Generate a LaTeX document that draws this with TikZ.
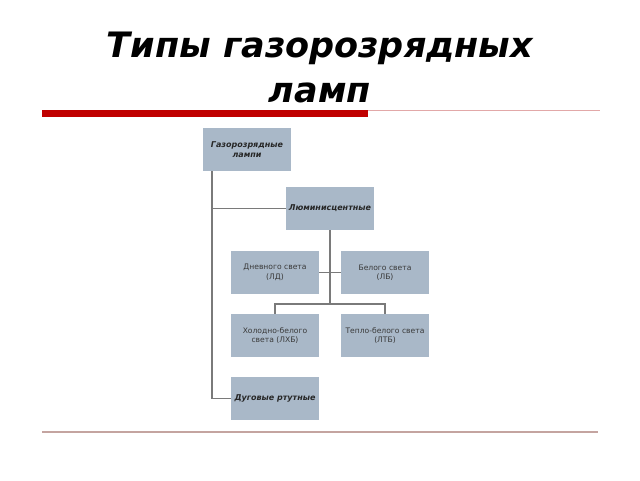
\documentclass[tikz,border=0pt]{standalone}
\usepackage{fontspec}
\setmainfont{DejaVu Sans}
\definecolor{boxfill}{HTML}{A9B8C8}
\definecolor{linegrey}{HTML}{7A7A7A}
\definecolor{redbar}{HTML}{C00000}
\definecolor{thinred}{HTML}{E2A8A8}
\definecolor{bottomline}{HTML}{C4A4A0}
\definecolor{txtgrey}{HTML}{3A3A3A}
\begin{document}
\begin{tikzpicture}[x=1pt,y=-1pt,
  box/.style={fill=boxfill, minimum width=88pt, minimum height=43pt, inner sep=2pt, align=center, text=txtgrey, font=\fontsize{7.6}{9.5}\selectfont},
  boldbox/.style={box, text=black!85, font=\fontsize{8}{10}\bfseries\itshape\selectfont},
  conn/.style={draw=linegrey, line width=1.5pt}]
\useasboundingbox (0,0) rectangle (640,480);
\node[font=\fontsize{35}{45}\bfseries\itshape\selectfont, align=center] (title) at (320,67) {Типы газорозрядных\\ламп};
\fill[redbar] (42,110) rectangle (368,117);
\coordinate (rl1) at (368,110.5);
\coordinate (rl2) at (600,110.5);
\draw[thinred, line width=1pt] (rl1) -- (rl2);
\coordinate (bl1) at (42,432);
\coordinate (bl2) at (598,432);
\draw[bottomline, line width=2.2pt] (bl1) -- (bl2);

\node[boldbox] (g) at (247,149.5) {Газорозрядные\\лампи};
\node[boldbox] (l) at (330,208.5) {Люминисцентные};
\node[box] (d) at (275,272.5) {Дневного света\\(ЛД)};
\node[box] (b) at (385,272.5) {Белого света\\(ЛБ)};
\node[box] (h) at (275,335.5) {Холодно-белого\\света (ЛХБ)};
\node[box] (t) at (385,335.5) {Тепло-белого света\\(ЛТБ)};
\node[boldbox] (a) at (275,398.5) {Дуговые ртутные};

\coordinate (trunk) at ([xshift=9pt]g.south west);
\coordinate (bus) at (330,304);
\draw[conn] (trunk) |- (a.west);
\draw[conn] (l.west) -- (l.west -| trunk);
\draw[conn] (l.south) -- (bus);
\draw[conn] (h.north) |- (bus) -| (t.north);
\draw[conn] (d.east) -- (b.west);
\end{tikzpicture}
\end{document}
